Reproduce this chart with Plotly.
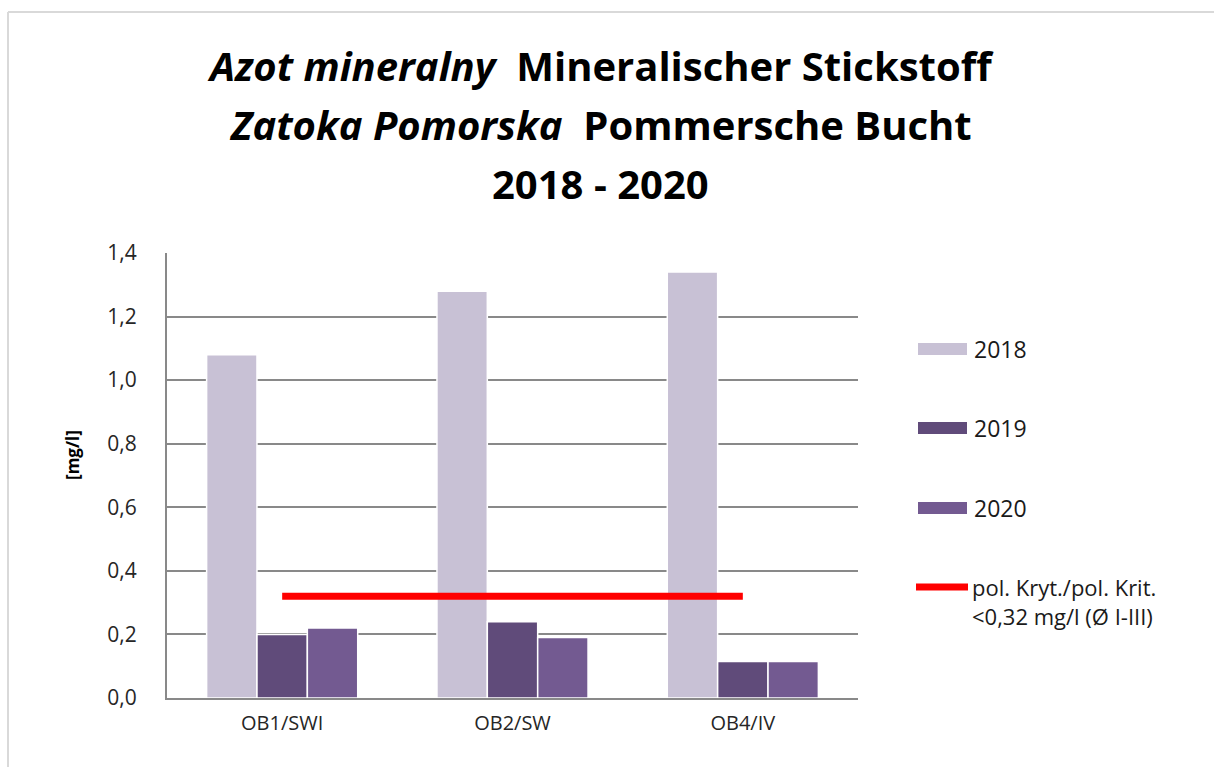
import plotly.graph_objects as go

# ---- data ----
categories = ["OB1/SWI", "OB2/SW", "OB4/IV"]
years = ["2018", "2019", "2020"]
values_2018 = [1.08, 1.28, 1.34]
values_2019 = [0.20, 0.24, 0.115]
values_2020 = [0.22, 0.19, 0.115]
threshold = 0.32
threshold_label = "pol. Kryt./pol. Krit.<br><0,32 mg/l (Ø I-III)"
y_ticks = [0.0, 0.2, 0.4, 0.6, 0.8, 1.0, 1.2, 1.4]

colors = ["#C8C1D5", "#604B7A", "#735A91"]
series = [values_2018, values_2019, values_2020]

W, H = 1214, 767
L, R, T, B = 167, 858, 253, 698
FONT = "Open Sans"


def px_x(px):
    return (px - L) / (R - L)


def px_y(py):
    return (B - py) / (B - T)


fig = go.Figure()
for name, vals, col in zip(years, series, colors):
    fig.add_trace(go.Bar(
        x=categories, y=vals, name=name,
        marker=dict(color=col, line=dict(color="white", width=1.5)),
        showlegend=False,
    ))

fig.add_trace(go.Scatter(
    x=[categories[0], categories[-1]], y=[threshold, threshold],
    mode="lines", line=dict(color="#FF0000", width=7),
    showlegend=False,
))

shapes = []
annotations = []

# outer frame (top and left light grey edges)
shapes.append(dict(type="line", xref="paper", yref="paper",
                   x0=px_x(8), x1=px_x(W + 5), y0=px_y(12), y1=px_y(12),
                   line=dict(color="#D9D9D9", width=2)))
shapes.append(dict(type="line", xref="paper", yref="paper",
                   x0=px_x(8), x1=px_x(8), y0=px_y(12), y1=px_y(H + 5),
                   line=dict(color="#D9D9D9", width=2)))

# custom legend
legend_y = [349, 428, 508]
for name, col, ly in zip(years, colors, legend_y):
    shapes.append(dict(type="rect", xref="paper", yref="paper",
                       x0=px_x(918), x1=px_x(967),
                       y0=px_y(ly - 6), y1=px_y(ly + 6),
                       fillcolor=col, line=dict(width=0)))
    annotations.append(dict(xref="paper", yref="paper", x=px_x(972), y=px_y(ly),
                            text=name, showarrow=False, xanchor="left", yanchor="middle",
                            font=dict(family=FONT, size=23, color="#1a1a1a")))
shapes.append(dict(type="line", xref="paper", yref="paper",
                   x0=px_x(916), x1=px_x(968), y0=px_y(587), y1=px_y(587),
                   line=dict(color="#FF0000", width=7)))
annotations.append(dict(xref="paper", yref="paper", x=px_x(970), y=px_y(601),
                        text=threshold_label, showarrow=False, xanchor="left",
                        yanchor="middle", align="left",
                        font=dict(family=FONT, size=22, color="#1a1a1a")))

# title lines
title_lines = [
    "<b><i>Azot mineralny</i>\u00a0\u00a0Mineralischer Stickstoff</b>",
    "<b><i>Zatoka Pomorska</i>\u00a0\u00a0Pommersche Bucht</b>",
    "<b>2018 - 2020</b>",
]
for txt, ty in zip(title_lines, [66, 124, 184]):
    annotations.append(dict(xref="paper", yref="paper", x=px_x(600), y=px_y(ty),
                            text=txt, showarrow=False, xanchor="center", yanchor="middle",
                            font=dict(family=FONT, size=40, color="#000000")))

# y axis title
annotations.append(dict(xref="paper", yref="paper", x=px_x(72), y=px_y(455),
                        text="<b>[mg/l]</b>", showarrow=False, textangle=-90,
                        xanchor="center", yanchor="middle",
                        font=dict(family=FONT, size=17, color="#000000")))

fig.update_layout(
    width=W, height=H,
    margin=dict(l=L, r=W - R, t=T, b=H - B, pad=0),
    paper_bgcolor="white", plot_bgcolor="white",
    barmode="group", bargap=0.344, bargroupgap=0,
    separators=", ",
    shapes=shapes, annotations=annotations,
    showlegend=False,
    font=dict(family=FONT, color="#262626"),
)
fig.update_yaxes(
    range=[0, 1.4], tickvals=y_ticks, tickformat=".1f",
    showgrid=True, gridcolor="#898989", gridwidth=2,
    showline=True, linecolor="#898989", linewidth=2,
    zeroline=False, ticks="", ticklabelstandoff=24,
    tickfont=dict(family=FONT, size=21, color="#262626"),
)
fig.update_xaxes(
    showline=True, linecolor="#898989", linewidth=2,
    showgrid=False, ticks="", ticklabelstandoff=6,
    tickfont=dict(family=FONT, size=20, color="#262626"),
)

fig.write_html(
    "out.html",
    config={"displayModeBar": False},
    post_script="document.body.style.margin='0';document.body.style.overflow='hidden';",
)
